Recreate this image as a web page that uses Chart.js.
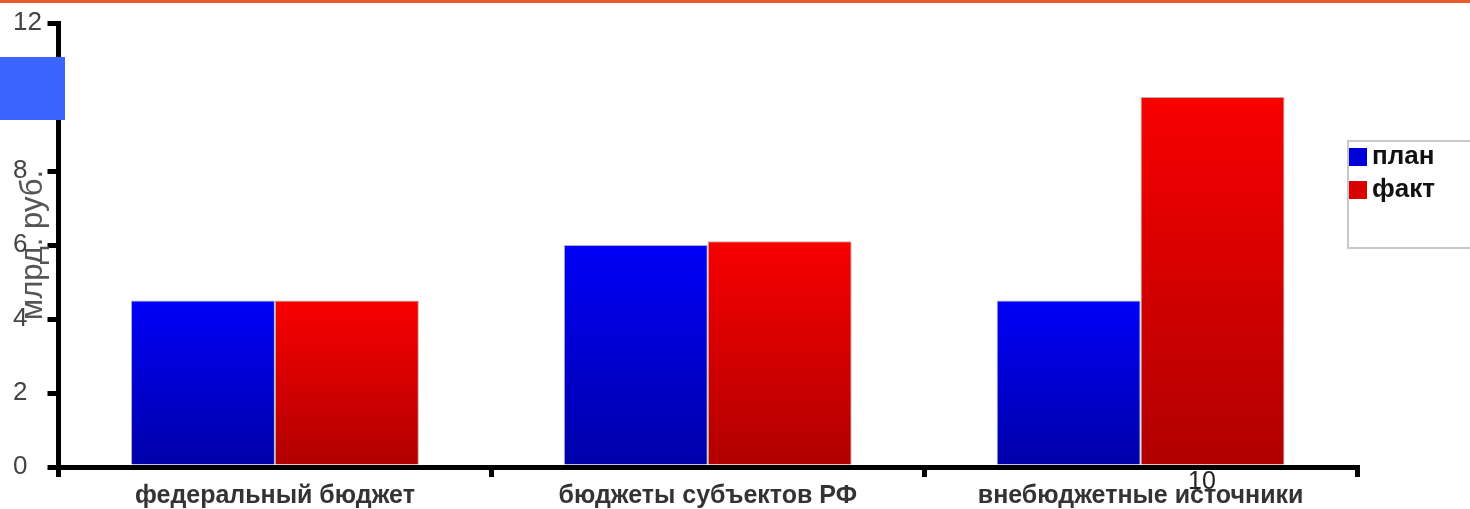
<!DOCTYPE html>
<html>
<head>
<meta charset="utf-8">
<script src="https://cdn.jsdelivr.net/npm/chart.js@4.4.1/dist/chart.umd.min.js"></script>
<style>
  html, body { margin: 0; padding: 0; background: #ffffff; }
  #wrap { width: 1470px; height: 509px; position: relative; }
</style>
</head>
<body>
<div id="wrap"><canvas id="c" width="1470" height="509"></canvas></div>
<script>
const categories = ['федеральный бюджет', 'бюджеты субъектов РФ', 'внебюджетные источники'];
const seriesNames = ['план', 'факт'];
const planValues = [4.5, 6.0, 4.5];
const factValues = [4.5, 6.1, 10.0];
const yTicks = [0, 2, 4, 6, 8, 10, 12];
const yTitle = 'млрд. руб.';
const strayLabel = '10';

const FONT = '"Liberation Sans", Arial, sans-serif';

function barGradient(ctx, topCol, botCol) {
  const chart = ctx.chart;
  const ys = chart.scales && chart.scales.y;
  if (!chart.chartArea || !ys || ctx.raw === undefined) return topCol;
  const top = ys.getPixelForValue(ctx.raw);
  const bot = ys.getPixelForValue(0);
  const g = chart.ctx.createLinearGradient(0, top, 0, bot);
  g.addColorStop(0, topCol);
  g.addColorStop(1, botCol);
  return g;
}

const decor = {
  id: 'decor',
  afterDraw(chart) {
    const c = chart.ctx;
    c.save();
    // legend box
    c.strokeStyle = '#c8c8c8';
    c.lineWidth = 2;
    c.strokeRect(1348, 141, 140, 107);
    const cols = ['#0000d8', '#d80000'];
    chart.data.datasets.forEach((ds, i) => {
      const y = 148 + i * 33;
      c.fillStyle = cols[i];
      c.fillRect(1349, y, 18, 18);
      c.fillStyle = '#111';
      c.font = 'bold 26px ' + FONT;
      c.textBaseline = 'middle';
      c.textAlign = 'left';
      c.fillText(ds.label, 1372, y + 9);
    });
    // stray label
    c.fillStyle = '#222';
    c.font = '25px ' + FONT;
    c.textAlign = 'center';
    c.textBaseline = 'middle';
    c.fillText(strayLabel, 1202, 482);
    // blue rectangle (covers tick label)
    c.fillStyle = '#3a66ff';
    c.fillRect(0, 57, 65, 63);
    // orange top line
    c.fillStyle = '#ea5a2a';
    c.fillRect(0, 0, 1470, 3);
    c.restore();
  }
};

new Chart(document.getElementById('c'), {
  type: 'bar',
  data: {
    labels: categories,
    datasets: [
      {
        label: seriesNames[0],
        data: planValues,
        backgroundColor: (ctx) => barGradient(ctx, '#0000f8', '#0000a8'),
        borderColor: 'rgba(110,110,130,0.55)',
        borderWidth: 1,
        categoryPercentage: 0.665,
        barPercentage: 1.0
      },
      {
        label: seriesNames[1],
        data: factValues,
        backgroundColor: (ctx) => barGradient(ctx, '#f80000', '#b00000'),
        borderColor: 'rgba(130,110,110,0.55)',
        borderWidth: 1,
        categoryPercentage: 0.665,
        barPercentage: 1.0
      }
    ]
  },
  options: {
    responsive: false,
    animation: false,
    devicePixelRatio: 1,
    layout: { padding: { top: 23, right: 113, left: 13, bottom: 0 } },
    plugins: {
      legend: { display: false },
      tooltip: { enabled: false }
    },
    scales: {
      x: {
        afterFit: (s) => { s.height = 42; },
        border: { display: true, color: '#000', width: 5 },
        grid: { display: true, drawOnChartArea: false, drawTicks: true, tickLength: 10, color: '#000', lineWidth: 5, offset: true },
        ticks: {
          color: '#333',
          font: { family: FONT, size: 25, weight: 'bold' },
          padding: 4,
          maxRotation: 0,
          autoSkip: false
        }
      },
      y: {
        min: 0,
        max: 12,
        afterFit: (s) => { s.width = 45.5; },
        afterBuildTicks: (s) => { s.ticks = yTicks.map(v => ({ value: v })); },
        border: { display: true, color: '#000', width: 5 },
        grid: { display: true, drawOnChartArea: false, drawTicks: true, tickLength: 11, color: '#000', lineWidth: 5 },
        ticks: {
          color: '#444',
          font: { family: FONT, size: 26 },
          padding: 3,
          crossAlign: 'far'
        },
        title: {
          display: true,
          text: yTitle,
          color: '#555',
          font: { family: FONT, size: 31, lineHeight: 0.6 },
          padding: { top: 11, bottom: 0 }
        }
      }
    }
  },
  plugins: [decor]
});
</script>
</body>
</html>
